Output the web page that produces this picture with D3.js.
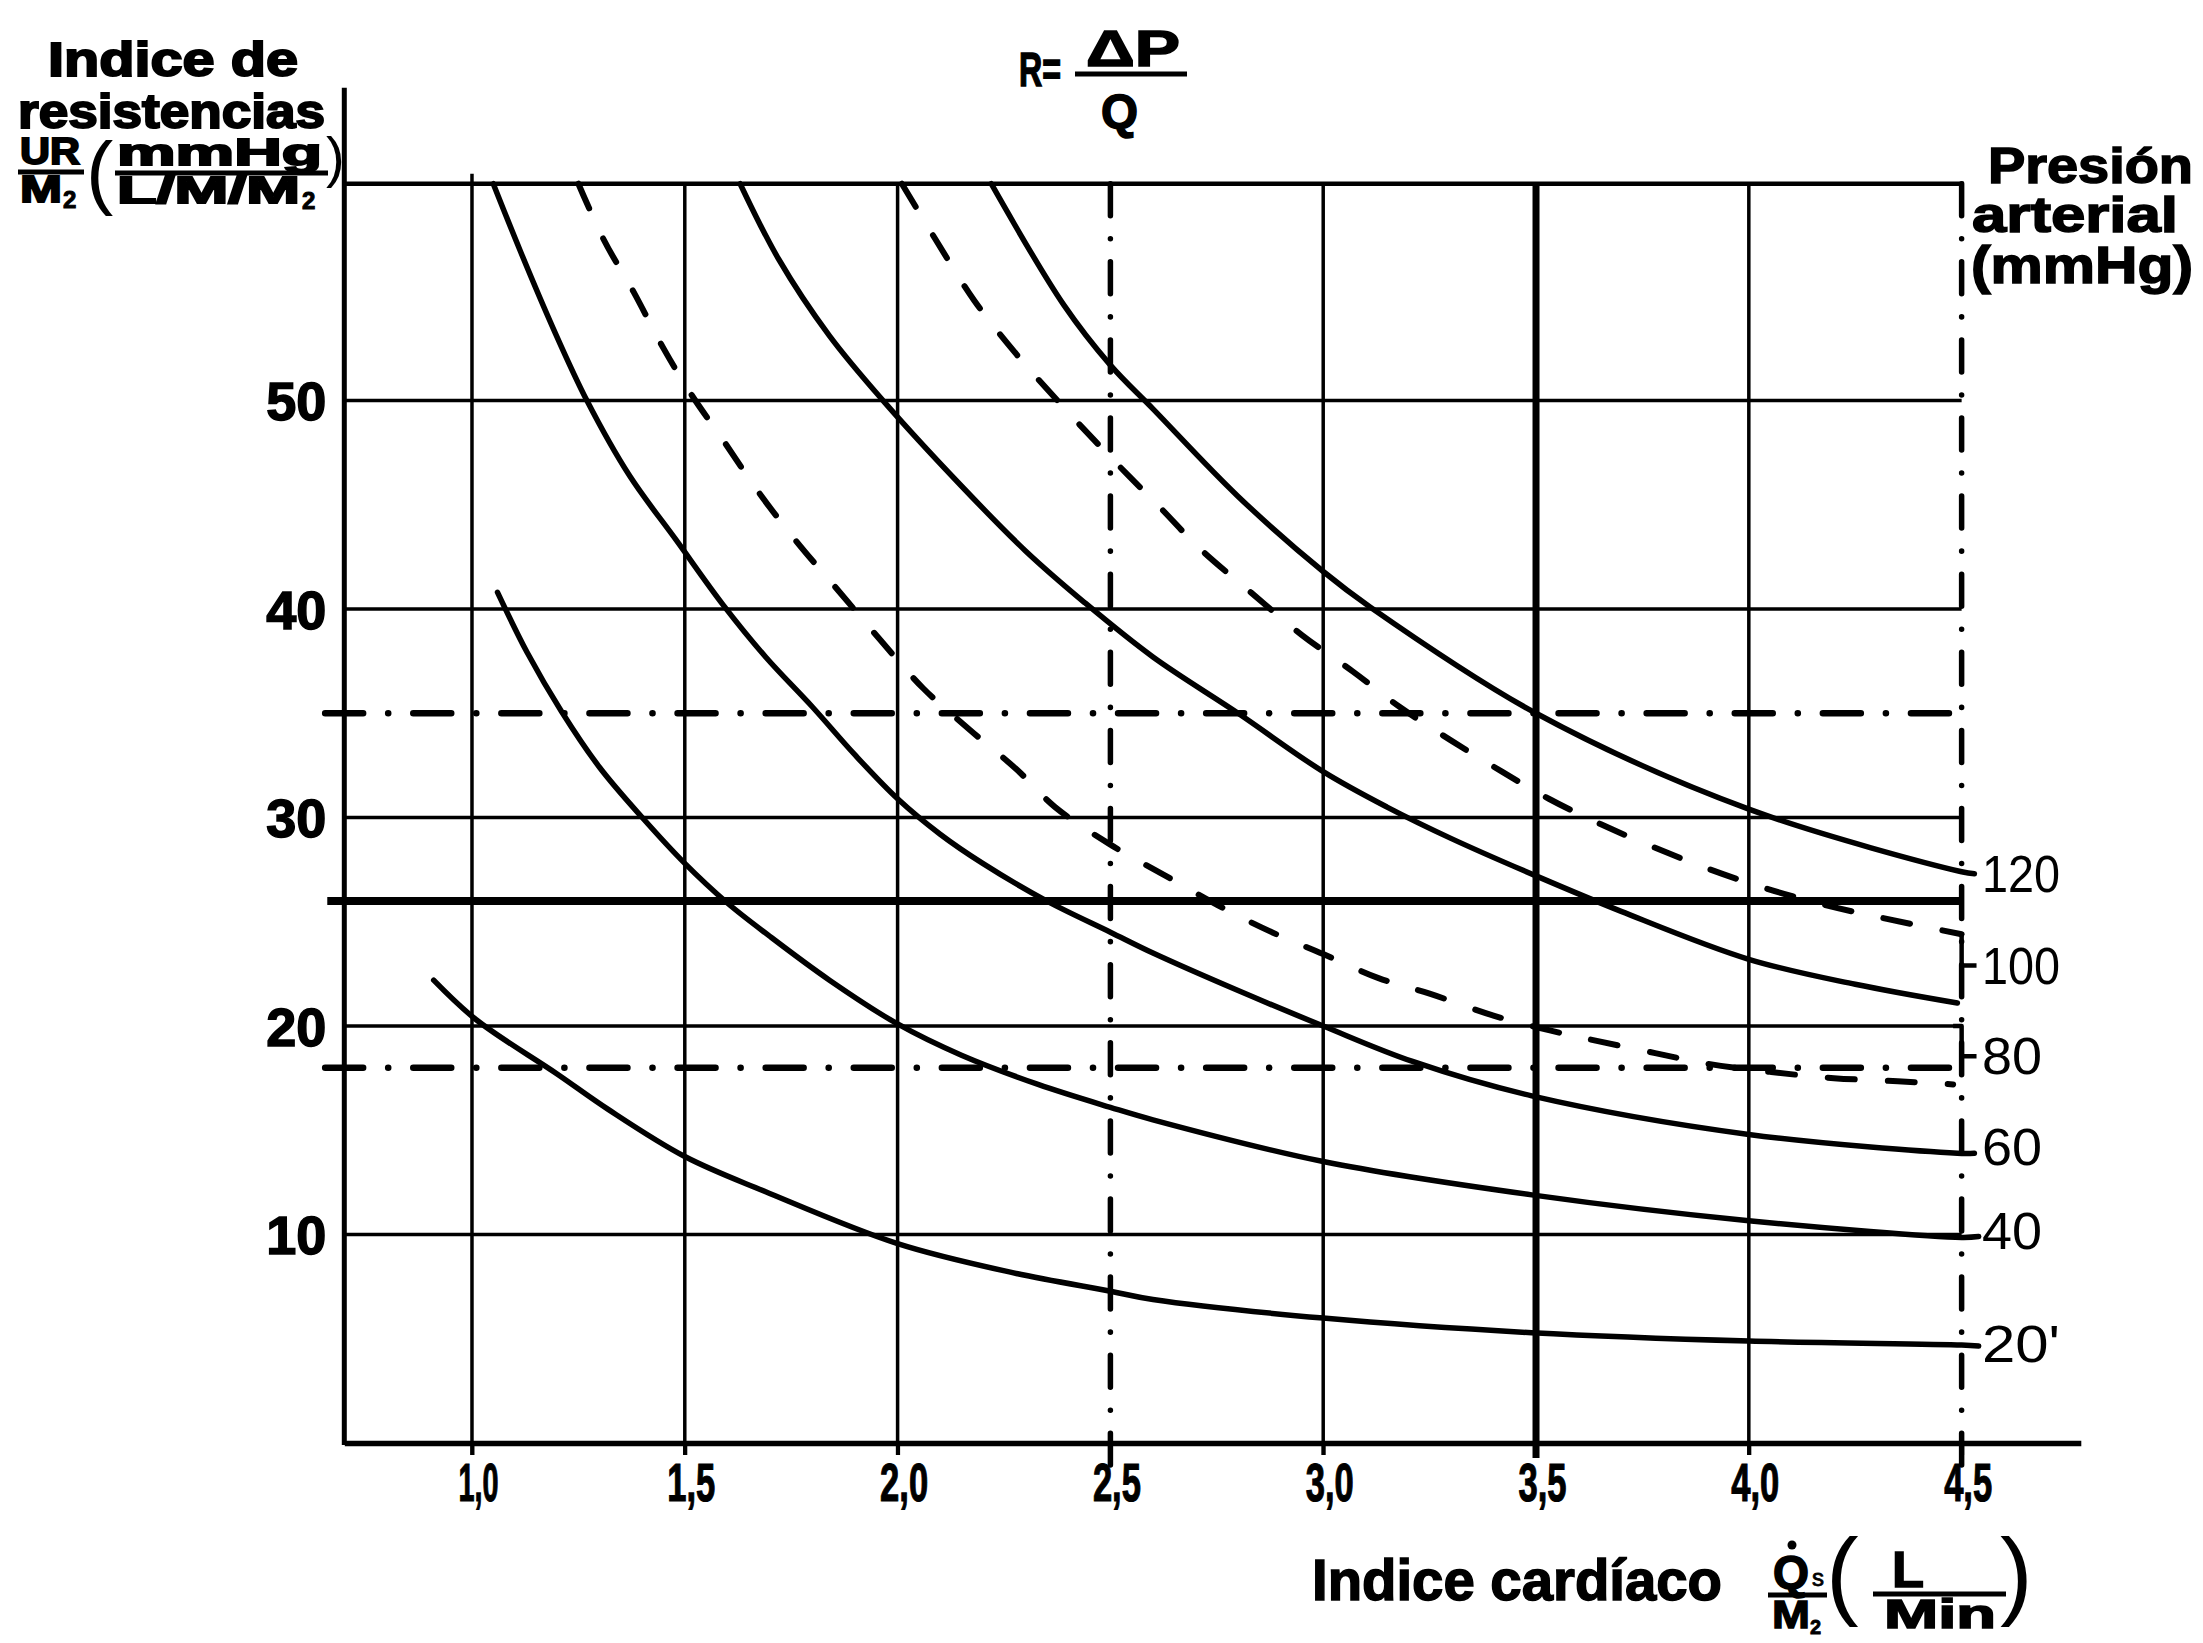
<!DOCTYPE html>
<html><head><meta charset="utf-8">
<script src="https://cdn.jsdelivr.net/npm/d3@7"></script>
<style>html,body{margin:0;padding:0;background:#fff;} svg{display:block;}</style>
</head><body>
<svg id="chart" width="2203" height="1643"></svg>
<script>
// ---------- data ----------
const xTickValues = [1.0, 1.5, 2.0, 2.5, 3.0, 3.5, 4.0, 4.5];
const xTickLabels = ["1,0", "1,5", "2,0", "2,5", "3,0", "3,5", "4,0", "4,5"];
const yTickValues = [10, 20, 30, 40, 50];
const yTickLabels = ["10", "20", "30", "40", "50"];
const gridSolidQ = [1.0, 1.5, 2.0, 3.0, 4.0];
const gridHeavyQ = [3.5];
const gridDashDotQ = [2.5, 4.5];
const gridR = [10, 20, 30, 40, 50];
const refDashDotR = [35, 18];
const refHeavyR = [26];
const pressureLabels = ["120", "100", "80", "60", "40", "20'"];
const pressureLabelR = [27.3, 22.9, 18.55, 14.2, 10.17, 4.75];

// solid curves (Q, R)
const curve120 = [[2.22,60.4],[2.39,54.6],[2.5,51.7],[2.6,49.6],[2.8,45.4],[3.0,41.8],[3.11,40.1],[3.5,35.0],[4.0,30.4],[4.5,27.4],[4.53,27.3]];
const curve100 = [[1.63,60.4],[1.72,56.8],[1.84,53.1],[1.97,49.9],[2.15,45.9],[2.3,42.8],[2.44,40.3],[2.6,37.7],[2.8,35.0],[3.0,32.2],[3.15,30.5],[3.3,29.0],[3.5,27.2],[3.7,25.5],[4.0,23.2],[4.25,22.0],[4.49,21.1]];
const curve60 = [[1.05,60.4],[1.115,57.1],[1.19,53.5],[1.27,50.0],[1.37,46.4],[1.48,43.3],[1.59,40.2],[1.69,37.7],[1.8,35.3],[1.9,33.0],[2.0,30.9],[2.1,29.2],[2.2,27.8],[2.35,26.0],[2.5,24.5],[2.6,23.5],[2.8,21.7],[3.0,20.0],[3.21,18.3],[3.49,16.65],[4.0,14.8],[4.49,13.9],[4.53,13.9]];
const curve40 = [[1.06,40.8],[1.13,37.9],[1.21,35.1],[1.3,32.4],[1.4,30.0],[1.5,27.8],[1.6,25.9],[1.7,24.3],[1.84,22.2],[2.0,20.1],[2.15,18.6],[2.33,17.2],[2.5,16.1],[2.6,15.5],[3.0,13.5],[3.49,11.9],[4.0,10.66],[4.5,9.86],[4.54,9.9]];
const curve20 = [[0.91,22.2],[1.01,20.3],[1.2,17.7],[1.32,16.0],[1.5,13.74],[1.69,12.05],[2.0,9.56],[2.27,8.17],[2.5,7.28],[2.6,6.88],[3.0,5.99],[3.49,5.29],[4.0,4.89],[4.5,4.7],[4.54,4.65]];
// dashed curves
const curveDashedUpper = [[2.01,60.4],[2.09,57.7],[2.18,54.8],[2.28,52.2],[2.38,49.9],[2.49,47.5],[2.62,44.8],[2.71,42.9],[2.83,40.8],[2.95,38.75],[3.07,37.0],[3.18,35.3],[3.3,33.7],[3.42,32.2],[3.53,30.9],[3.65,29.7],[3.78,28.55],[3.91,27.5],[4.04,26.6],[4.18,25.8],[4.31,25.2],[4.5,24.4]];
const curveDashedLower = [[1.25,60.4],[1.31,57.7],[1.38,55.2],[1.45,52.5],[1.515,50.3],[1.59,48.1],[1.67,45.7],[1.76,43.3],[1.86,40.9],[1.96,38.5],[2.06,36.2],[2.17,34.2],[2.28,32.3],[2.37,30.5],[2.5,28.7],[2.63,27.2],[2.77,25.6],[2.89,24.4],[3.0,23.45],[3.13,22.3],[3.25,21.55],[3.4,20.5],[3.53,19.8],[3.64,19.3],[3.78,18.7],[3.9,18.2],[4.05,17.8],[4.2,17.5],[4.35,17.35],[4.48,17.2]];
// leader hooks to the pressure labels
const leader100 = [[4.5,24.4],[4.5,22.9],[4.535,22.9]];
const leader80 = [[4.48,20.0],[4.5,20.0],[4.5,18.55],[4.535,18.55]];

// ---------- layout ----------
const svg = d3.select("#chart");
svg.append("rect").attr("width",2203).attr("height",1643).attr("fill","#fff");

const x = d3.scaleLinear().domain([0.7, 4.78]).range([344.3, 2080.8]);
const y = d3.scaleLinear().domain([0, 60.4]).range([1443, 183.7]);
const R_TOP = 60.4, Q_RIGHT = 4.5;
const ink = "#000";
const heavyFont = "'Liberation Sans', Arial, sans-serif";

const g = svg.append("g");

// horizontal grid
g.selectAll("line.hgrid").data(gridR).join("line")
  .attr("x1", x(0.7)).attr("x2", x(Q_RIGHT))
  .attr("y1", d => y(d)).attr("y2", d => y(d))
  .attr("stroke", ink).attr("stroke-width", 3.5);
// top border
g.append("line").attr("x1", x(0.7)).attr("x2", x(Q_RIGHT)+2)
  .attr("y1", y(R_TOP)).attr("y2", y(R_TOP)).attr("stroke", ink).attr("stroke-width", 4.5);

// reference horizontals
g.selectAll("line.refdd").data(refDashDotR).join("line")
  .attr("x1", x(0.655)).attr("x2", x(Q_RIGHT))
  .attr("y1", d => y(d)).attr("y2", d => y(d))
  .attr("stroke", ink).attr("stroke-width", 6.5).attr("stroke-linecap","round")
  .attr("stroke-dasharray", "38,25,0.1,25");
g.selectAll("line.refheavy").data(refHeavyR).join("line")
  .attr("x1", x(0.66)).attr("x2", x(Q_RIGHT))
  .attr("y1", d => y(d)).attr("y2", d => y(d))
  .attr("stroke", ink).attr("stroke-width", 8);

// vertical grid
g.selectAll("line.vgrid").data(gridSolidQ).join("line")
  .attr("x1", d => x(d)).attr("x2", d => x(d))
  .attr("y1", d => d === 1.0 ? y(R_TOP) - 10 : y(R_TOP)).attr("y2", y(0) + 12)
  .attr("stroke", ink).attr("stroke-width", 3.5);
g.selectAll("line.vheavy").data(gridHeavyQ).join("line")
  .attr("x1", d => x(d)).attr("x2", d => x(d))
  .attr("y1", y(R_TOP)).attr("y2", y(0) + 15)
  .attr("stroke", ink).attr("stroke-width", 7);
g.selectAll("line.vdd").data(gridDashDotQ).join("line")
  .attr("x1", d => x(d)).attr("x2", d => x(d))
  .attr("y1", y(R_TOP)).attr("y2", y(0) + 22)
  .attr("stroke", ink).attr("stroke-width", 5.5).attr("stroke-linecap","round")
  .attr("stroke-dasharray", "32,23,0.1,23");

// y axis line
g.append("line").attr("x1", x(0.7)).attr("x2", x(0.7))
  .attr("y1", y(0) + 2).attr("y2", y(65)).attr("stroke", ink).attr("stroke-width", 5);

// x axis
const xAxis = d3.axisBottom(x).tickValues(xTickValues)
  .tickFormat((d, i) => xTickLabels[i]).tickSize(12).tickSizeOuter(0).tickPadding(8);
const gx = svg.append("g").attr("transform", `translate(0,${y(0)})`).call(xAxis);
gx.select(".domain").attr("stroke", ink).attr("stroke-width", 5.5);
gx.selectAll(".tick line").attr("stroke", ink).attr("stroke-width", 4);
gx.selectAll(".tick text")
  .attr("y", 58).attr("dy", null).attr("dx", 6)
  .attr("font-family", "'Liberation Sans Narrow', 'Liberation Sans', Arial, sans-serif")
  .attr("font-weight", "bold").attr("font-size", 54).attr("fill", ink)
  .attr("stroke", ink).attr("stroke-width", 1.2)
  .attr("textLength", (d, i) => i === 0 ? 40 : 48).attr("lengthAdjust", "spacingAndGlyphs");

// y axis labels
const yAxis = d3.axisLeft(y).tickValues(yTickValues)
  .tickFormat((d, i) => yTickLabels[i]).tickSize(0).tickPadding(18);
const gy = svg.append("g").attr("transform", `translate(${x(0.7)},0)`).call(yAxis);
gy.select(".domain").remove();
gy.selectAll(".tick text")
  .attr("dy", "0.36em")
  .attr("font-family", heavyFont).attr("font-weight", "bold").attr("font-size", 54)
  .attr("fill", ink).attr("stroke", ink).attr("stroke-width", 1.5);

// curves
const line = d3.line().x(d => x(d[0])).y(d => y(d[1])).curve(d3.curveCatmullRom.alpha(0.5));
const solidCurves = [curve120, curve100, curve60, curve40, curve20];
g.selectAll("path.solid").data(solidCurves).join("path")
  .attr("d", line).attr("fill", "none").attr("stroke", ink)
  .attr("stroke-width", 5.5).attr("stroke-linecap", "round");
const dashedCurves = [curveDashedUpper, curveDashedLower];
g.selectAll("path.dashed").data(dashedCurves).join("path")
  .attr("d", line).attr("fill", "none").attr("stroke", ink)
  .attr("stroke-width", 6).attr("stroke-linecap", "round")
  .attr("stroke-dasharray", "27,33");
const straight = d3.line().x(d => x(d[0])).y(d => y(d[1]));
g.selectAll("path.leader").data([leader100, leader80]).join("path")
  .attr("d", straight).attr("fill", "none").attr("stroke", ink)
  .attr("stroke-width", 4.5).attr("stroke-linejoin", "round");

// pressure labels
g.selectAll("text.plabel").data(pressureLabels).join("text")
  .attr("x", x(4.548)).attr("y", (d, i) => y(pressureLabelR[i]) + 18)
  .attr("font-family", heavyFont).attr("font-size", 51).attr("fill", ink)
  .attr("textLength", d => d.length === 3 ? 78 : 60).attr("lengthAdjust", "spacingAndGlyphs")
  .text(d => d);

// ---------- titles ----------
function txt(s, px, py, size, opts = {}) {
  const t = svg.append("text").attr("x", px).attr("y", py)
    .attr("font-family", opts.family || heavyFont)
    .attr("font-weight", opts.weight || "bold")
    .attr("font-size", size).attr("fill", ink).text(s);
  if (opts.len) t.attr("textLength", opts.len).attr("lengthAdjust", "spacingAndGlyphs");
  if (opts.stroke) t.attr("stroke", ink).attr("stroke-width", opts.stroke);
  if (opts.anchor) t.attr("text-anchor", opts.anchor);
  return t;
}
function bar(x1, x2, yy, w) {
  svg.append("line").attr("x1", x1).attr("x2", x2).attr("y1", yy).attr("y2", yy)
    .attr("stroke", ink).attr("stroke-width", w || 5);
}

// y-axis title
txt("Indice de", 48, 76, 48, {len: 250, stroke: 2});
txt("resistencias", 18, 128, 48, {len: 307, stroke: 2});
txt("UR", 20, 164, 36, {len: 60, stroke: 1.8});
bar(18, 84, 172, 5);
txt("M", 20, 202, 36, {len: 42, stroke: 1.8});
txt("2", 63, 208, 24, {stroke: 1});
txt("(", 86, 199, 82, {weight: "normal"});
txt("mmHg", 117, 165, 36, {len: 205, stroke: 1.8});
bar(115, 328, 173, 5);
txt("L/M/M", 117, 203, 36, {len: 183, stroke: 1.8});
txt("2", 302, 209, 24, {stroke: 1});
txt(")", 326, 176, 56, {weight: "normal"});

// top formula
txt("R=", 1019, 86, 48, {len: 42, stroke: 1.5});
txt("\u0394P", 1086, 66, 50, {len: 94, stroke: 1.5});
bar(1075, 1187, 74, 5);
txt("Q", 1101, 128, 48, {len: 37, stroke: 1.5});

// right title
txt("Presión", 1988, 183, 50, {len: 205, stroke: 1.5});
txt("arterial", 1972, 232, 50, {len: 206, stroke: 1.5});
txt("(mmHg)", 1971, 283, 52, {len: 222, stroke: 1.5});

// x-axis title
txt("Indice cardíaco", 1312, 1600, 58, {len: 410, stroke: 1.5});
txt("Q", 1773, 1588, 46, {len: 36, stroke: 1.5});
svg.append("circle").attr("cx", 1792).attr("cy", 1545).attr("r", 4.5).attr("fill", ink);
txt("s", 1812, 1586, 24, {weight: "normal", stroke: 0.8});
bar(1768, 1827, 1595, 5);
txt("M", 1772, 1628, 38, {len: 38, stroke: 1.3});
txt("2", 1810, 1634, 20, {stroke: 0.8});
txt("(", 1826, 1607, 98, {weight: "normal"});
txt("L", 1892, 1587, 50, {len: 32, stroke: 1.5});
bar(1873, 2006, 1594, 5);
txt("Min", 1884, 1628, 40, {len: 112, stroke: 1.5});
txt(")", 2000, 1607, 98, {weight: "normal"});
</script>
</body></html>
